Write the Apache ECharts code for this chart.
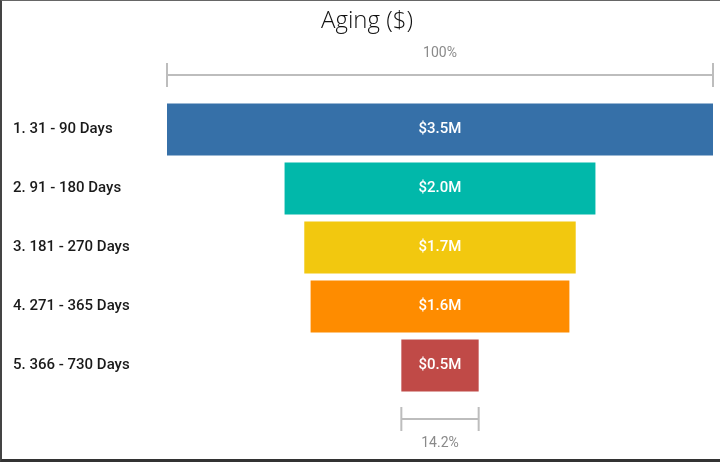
<!DOCTYPE html>
<html>
<head>
<meta charset="utf-8">
<script src="https://cdn.jsdelivr.net/npm/echarts@6/dist/echarts.min.js"></script>
<style>
  html, body { margin: 0; padding: 0; background: #fff; }
  #chart { position: absolute; left: 0; top: 0; width: 720px; height: 462px; }
  #frame { position: absolute; left: 0; top: 0; width: 720px; height: 462px; box-sizing: border-box;
           border-left: 2px solid #444; border-top: 1px solid #666; border-bottom: 3px solid #333; pointer-events: none; }
</style>
</head>
<body>
<div id="chart"></div>
<div id="frame"></div>
<script>
const categories = ['1. 31 - 90 Days', '2. 91 - 180 Days', '3. 181 - 270 Days', '4. 271 - 365 Days', '5. 366 - 730 Days'];
const values = [3.46, 1.97, 1.72, 1.64, 0.49]; // $M
const barColors = ['#3670A8', '#01B8AA', '#F2C80F', '#FE8C00', '#C04A47'];

const maxV = Math.max(...values);
const padding = values.map(v => (maxV - v) / 2);
const lastIdx = values.length - 1;

const chart = echarts.init(document.getElementById('chart'), null, { renderer: 'canvas' });

function bracket(params, api) {
  const idx = api.value(1);
  const v = values[idx];
  const x1 = api.coord([(maxV - v) / 2, idx])[0];
  const x2 = api.coord([(maxV + v) / 2, idx])[0];
  const cs = params.coordSys;
  const isTop = idx === 0;
  const y = isTop ? cs.y - 25 : cs.y + cs.height + 24;
  const pct = v / maxV * 100;
  const txt = Math.abs(pct - 100) < 1e-9 ? '100%' : pct.toFixed(1) + '%';
  const ty = isTop ? y - 22 : y + 24;
  const lineStyle = { stroke: '#BDBDBD', lineWidth: 2 };
  return {
    type: 'group',
    children: [
      { type: 'line', shape: { x1: x1, y1: y, x2: x2, y2: y }, style: lineStyle },
      { type: 'line', shape: { x1: x1, y1: y - 12, x2: x1, y2: y + 12 }, style: lineStyle },
      { type: 'line', shape: { x1: x2, y1: y - 12, x2: x2, y2: y + 12 }, style: lineStyle },
      { type: 'text', style: { text: txt, x: (x1 + x2) / 2, y: ty, align: 'center', verticalAlign: 'middle',
          fill: '#8A8A8A', fontSize: 14, fontFamily: 'Roboto' } }
    ]
  };
}

chart.setOption({
  animation: false,
  title: {
    text: 'Aging ($)', left: 362, top: 4, textAlign: 'center',
    textStyle: { fontFamily: 'Open Sans', fontWeight: 300, fontSize: 24, color: '#111' }
  },
  grid: { left: 167, right: 7, top: 100, height: 295, containLabel: false },
  xAxis: { type: 'value', min: 0, max: maxV, show: false },
  yAxis: {
    type: 'category', data: categories, inverse: true,
    axisLine: { show: false }, axisTick: { show: false }, splitLine: { show: false },
    axisLabel: { align: 'left', margin: 154, color: '#1a1a1a', fontFamily: 'Roboto', fontWeight: 500, fontSize: 15, padding: [2, 0, 0, 0] }
  },
  series: [
    {
      type: 'bar', stack: 'f', data: padding, barCategoryGap: '12%',
      itemStyle: { color: 'transparent' }, silent: true
    },
    {
      type: 'bar', stack: 'f', barCategoryGap: '12%',
      data: values.map((v, i) => ({ value: v, itemStyle: { color: barColors[i] } })),
      label: {
        show: true, position: 'inside', color: '#fff', fontFamily: 'Roboto', fontWeight: 500, fontSize: 15,
        formatter: p => '$' + p.value.toFixed(1) + 'M'
      }
    },
    {
      type: 'custom', renderItem: bracket, clip: false, silent: true,
      encode: { x: 0, y: 1 },
      data: [[maxV / 2, 0], [maxV / 2, lastIdx]]
    }
  ]
});
</script>
</body>
</html>
